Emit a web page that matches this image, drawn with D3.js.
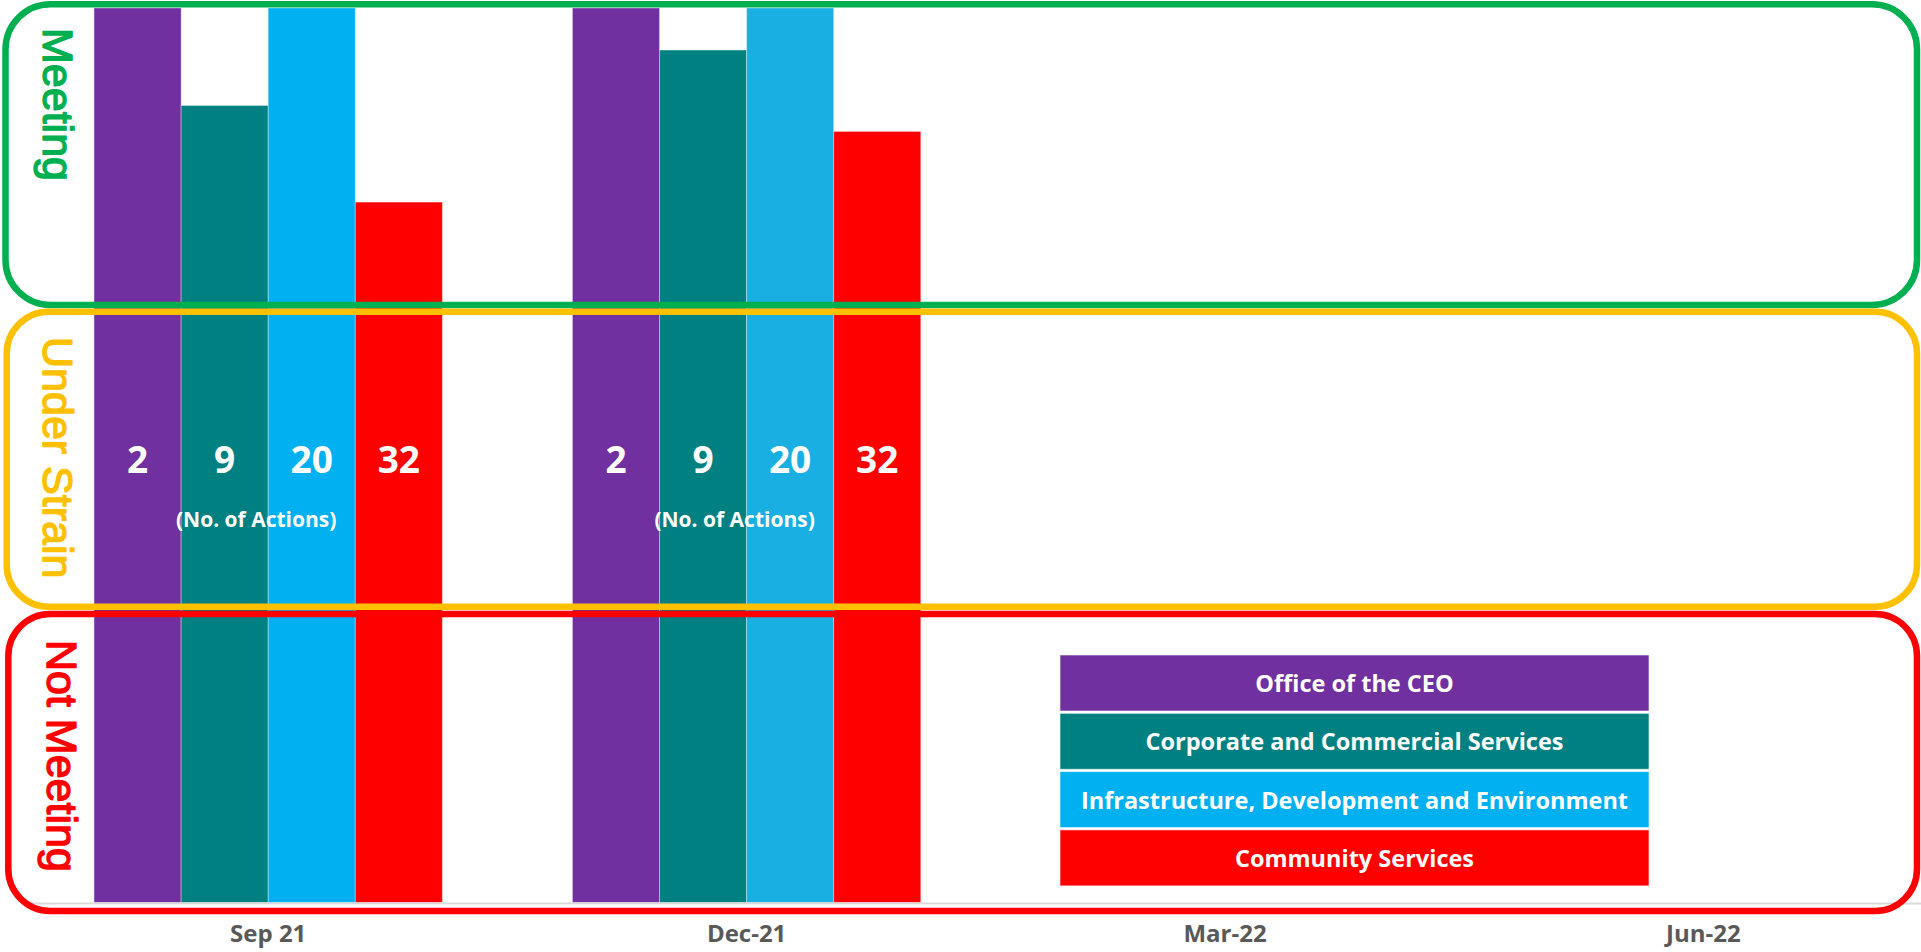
<!DOCTYPE html>
<html>
<head>
<meta charset="utf-8">
<script src="https://cdn.jsdelivr.net/npm/d3@7"></script>
<style>
  body { margin: 0; background: #fff; overflow: hidden; }
  svg { display: block; }
</style>
</head>
<body>
<script>
// quarters on the x axis
const quarters = ["Sep 21", "Dec-21", "Mar-22", "Jun-22"];
const directorates = [
  "Office of the CEO",
  "Corporate and Commercial Services",
  "Infrastructure, Development and Environment",
  "Community Services"
];
// no. of actions per directorate
const actionCounts = [2, 9, 20, 32];
// % of actions meeting target (bars run past the top of the plot)
const sep21Values = [100, 89.1, 100, 78.3];
const dec21Values = [100, 95.3, 100, 86.2];
const statusLabels = ["Meeting", "Under Strain", "Not Meeting"];

const colors = ["#7030A0", "#008080", "#00B0F0", "#FF0000"];
const statusColors = ["#00B050", "#FFC000", "#FF0000"];

const width = 1921, height = 952;

const barData = [];
[sep21Values, dec21Values].forEach((vals, qi) => {
  vals.forEach((v, i) => {
    barData.push({quarter: quarters[qi], dir: directorates[i], value: v, count: actionCounts[i], idx: i});
  });
});

const svg = d3.select("body")
  .append("svg")
  .attr("width", width)
  .attr("height", height);

const xScale = d3.scaleBand()
  .domain(quarters)
  .range([29, 1942.6])
  .padding(0);

const xSub = d3.scaleBand()
  .domain(directorates)
  .range([0, xScale.bandwidth()])
  .paddingInner(0)
  .paddingOuter(0.747);

const yScale = d3.scaleLinear()
  .domain([0, 100])
  .range([902.5, 8]);

const barColor = d => {
  // the Dec-21 infrastructure bar is a slightly softer blue
  if (d.quarter === "Dec-21" && d.idx === 2) return "#1AAFE3";
  return colors[d.idx];
};

// bars
svg.append("g")
  .selectAll("rect")
  .data(barData)
  .join("rect")
  .attr("x", d => xScale(d.quarter) + xSub(d.dir))
  .attr("y", d => yScale(d.value))
  .attr("width", xSub.bandwidth())
  .attr("height", d => yScale(0) - yScale(d.value))
  .attr("fill", barColor)
  .attr("stroke", "rgba(255,255,255,0.35)")
  .attr("stroke-width", 1)

// axis
const xAxis = d3.axisBottom(xScale).tickSize(0).tickPadding(0);
const axisG = svg.append("g")
  .attr("class", "axis x")
  .attr("transform", `translate(0, ${yScale(0) + 1})`)
  .call(xAxis)
axisG.select(".domain")
  .attr("stroke", "#D9D9D9")
  .attr("stroke-width", 2)
  .attr("d", `M${xScale.range()[0]},0H${width}`)
axisG.selectAll("text")
  .attr("y", 38.5)
  .attr("dy", null)
  .attr("fill", "#595959")
  .attr("font-family", "'Open Sans', sans-serif")
  .attr("font-weight", "bold")
  .attr("font-size", "24px")

// status frames
const frames = [
  {x: 5.5, y: 4.3, w: 1911.5, h: 300.7, r: 45},
  {x: 6.7, y: 311.7, w: 1910.3, h: 295, r: 42},
  {x: 8.3, y: 614, w: 1908.7, h: 297, r: 42}
];
svg.append("g")
  .selectAll("rect")
  .data(frames)
  .join("rect")
  .attr("x", d => d.x)
  .attr("y", d => d.y)
  .attr("width", d => d.w)
  .attr("height", d => d.h)
  .attr("rx", d => d.r)
  .attr("ry", d => d.r)
  .attr("fill", "none")
  .attr("stroke", (d, i) => statusColors[i])
  .attr("stroke-width", 6.5)

// status labels, rotated
const statusPos = [[43, 28], [43.3, 337], [47, 640]];
svg.append("g")
  .selectAll("text")
  .data(statusLabels)
  .join("text")
  .attr("transform", (d, i) => `translate(${statusPos[i][0]}, ${statusPos[i][1]}) rotate(90)`)
  .attr("fill", (d, i) => statusColors[i])
  .attr("stroke", (d, i) => statusColors[i])
  .attr("stroke-width", 1.4)
  .attr("stroke-linejoin", "round")
  .attr("font-family", "'Liberation Sans', Arial, sans-serif")
  .attr("font-size", "43px")
  .text(d => d)

// action counts on bars
svg.append("g")
  .selectAll("text")
  .data(barData)
  .join("text")
  .attr("x", d => xScale(d.quarter) + xSub(d.dir) + xSub.bandwidth() / 2)
  .attr("y", 473)
  .attr("text-anchor", "middle")
  .attr("fill", "#fff")
  .attr("font-family", "'Open Sans', sans-serif")
  .attr("font-weight", "bold")
  .attr("font-size", "37px")
  .text(d => d.count)

svg.append("g")
  .selectAll("text")
  .data(quarters.slice(0, 2))
  .join("text")
  .attr("x", d => xScale(d) + xScale.bandwidth() / 2 - 12)
  .attr("y", 527)
  .attr("text-anchor", "middle")
  .attr("fill", "#fff")
  .attr("font-family", "'Open Sans', sans-serif")
  .attr("font-weight", "bold")
  .attr("font-size", "21px")
  .text("(No. of Actions)")

// legend
const legend = {x: 1060, y: 655, w: 589, rowH: 56, gap: 2.3};
const legendG = svg.append("g")
  .selectAll("g")
  .data(directorates)
  .join("g")
  .attr("transform", (d, i) => `translate(${legend.x}, ${legend.y + i * (legend.rowH + legend.gap)})`)

legendG.append("rect")
  .attr("width", legend.w)
  .attr("height", legend.rowH)
  .attr("fill", (d, i) => colors[i])
  .attr("stroke", "rgba(255,255,255,0.6)")
  .attr("stroke-width", 1)

legendG.append("text")
  .attr("x", legend.w / 2)
  .attr("y", legend.rowH / 2 + 9)
  .attr("text-anchor", "middle")
  .attr("fill", "#fff")
  .attr("font-family", "'Open Sans', sans-serif")
  .attr("font-weight", "bold")
  .attr("font-size", "23.5px")
  .text(d => d)
</script>
</body>
</html>
